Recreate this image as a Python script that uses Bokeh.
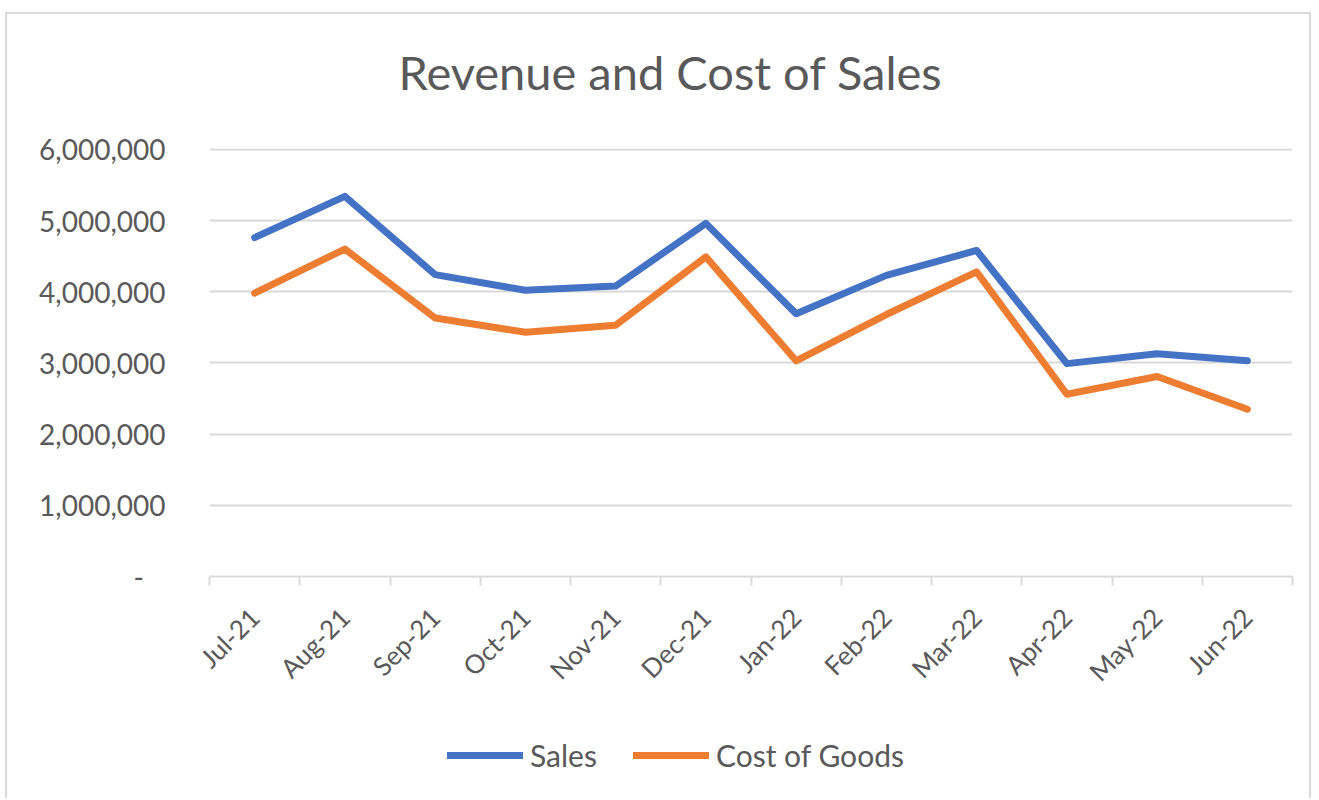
from bokeh.plotting import figure
from bokeh.layouts import column
from bokeh.models import (Range1d, LinearAxis, FixedTicker, Label,
                          NumeralTickFormatter, Legend, LegendItem)
from bokeh.embed import file_html
from bokeh.resources import INLINE
import math

months = ["Jul-21", "Aug-21", "Sep-21", "Oct-21", "Nov-21", "Dec-21",
          "Jan-22", "Feb-22", "Mar-22", "Apr-22", "May-22", "Jun-22"]
sales = [4760000, 5340000, 4240000, 4020000, 4080000, 4960000,
         3690000, 4230000, 4580000, 2990000, 3130000, 3030000]
cost_of_goods = [3980000, 4600000, 3630000, 3430000, 3530000, 4490000,
                 3030000, 3680000, 4280000, 2560000, 2810000, 2350000]
y_ticks = [0, 1000000, 2000000, 3000000, 4000000, 5000000, 6000000]
series_names = ["Sales", "Cost of Goods"]
series_colors = ["#4472C4", "#ED7D31"]

FONT = "Lato"
TXT = "#595959"
GRID = "#d9d9d9"
W = 1302

idx = list(range(len(months)))


def blank(height):
    f = figure(width=W, height=height, x_range=Range1d(0, 1), y_range=Range1d(0, 1),
               output_backend="svg", toolbar_location=None, x_axis_location=None, y_axis_location=None,
               min_border=0)
    f.min_border_left = f.min_border_right = f.min_border_top = f.min_border_bottom = 0
    f.outline_line_color = None
    f.xgrid.visible = False
    f.ygrid.visible = False
    return f


# ---- title strip (frames of the column are aligned with the chart frame)
top = blank(110)
top.add_layout(Label(x=461, y=53, x_units="screen", y_units="screen", text="Revenue and Cost of Sales",
                     text_align="center", text_baseline="alphabetic", text_font=FONT,
                     text_font_size="47px", text_color=TXT))

# ---- main chart
p = figure(width=W, height=577, x_range=Range1d(-0.5, len(months) - 0.5), y_range=Range1d(0, 6012000),
           output_backend="svg", toolbar_location=None, x_axis_location=None, y_axis_location=None,
           min_border_left=202, min_border_right=17, min_border_top=24, min_border_bottom=125)
p.outline_line_color = None

yax = LinearAxis(ticker=FixedTicker(ticks=y_ticks), formatter=NumeralTickFormatter(format="0,0"))
yax.major_label_overrides = {0: "-\u00a0\u00a0\u00a0"}
yax.axis_line_color = None
yax.major_tick_line_color = None
yax.minor_tick_line_color = None
yax.major_label_standoff = 38
yax.major_label_text_font = FONT
yax.major_label_text_font_size = "28px"
yax.major_label_text_color = TXT
p.add_layout(yax, "left")

xax = LinearAxis(ticker=FixedTicker(ticks=idx, minor_ticks=[i - 0.5 for i in range(len(months) + 1)]))
xax.major_label_overrides = {i: m for i, m in zip(idx, months)}
xax.axis_line_color = GRID
xax.axis_line_width = 2
xax.major_tick_line_color = None
xax.minor_tick_line_color = GRID
xax.minor_tick_line_width = 2
xax.minor_tick_out = 9
xax.minor_tick_in = 0
xax.major_label_orientation = math.pi / 4
xax.major_label_standoff = 27
xax.major_label_text_font = FONT
xax.major_label_text_font_size = "26px"
xax.major_label_text_color = TXT
p.add_layout(xax, "below")

p.xgrid.grid_line_color = None
p.ygrid.ticker = FixedTicker(ticks=y_ticks)
p.ygrid.grid_line_color = GRID
p.ygrid.grid_line_width = 2

for vals, col in zip([sales, cost_of_goods], series_colors):
    p.line(idx, vals, line_color=col, line_width=7, line_cap="round", line_join="round")

# ---- legend strip (legend keys only, no points drawn)
bottom = blank(97)
keys = [bottom.line(x=[float("nan")], y=[float("nan")], line_color=col, line_width=7, line_cap="round")
        for col in series_colors]
legend = Legend(items=[LegendItem(label=n, renderers=[r]) for n, r in zip(series_names, keys)],
                orientation="horizontal", location=(238, 25))
legend.glyph_width = 76
legend.glyph_height = 30
legend.label_standoff = 7
legend.spacing = 36
legend.padding = 0
legend.margin = 0
legend.border_line_color = None
legend.background_fill_alpha = 0
legend.label_text_font = FONT
legend.label_text_font_size = "30px"
legend.label_text_color = TXT
bottom.add_layout(legend, "center")

layout = column(top, p, bottom, spacing=0)
layout.margin = (12, 0, 0, 5)
layout.styles = {"border-top": "2px solid #d9d9d9", "border-left": "2px solid #d9d9d9",
                 "border-right": "2px solid #d9d9d9"}

open("out.html", "w").write(file_html(layout, INLINE))
